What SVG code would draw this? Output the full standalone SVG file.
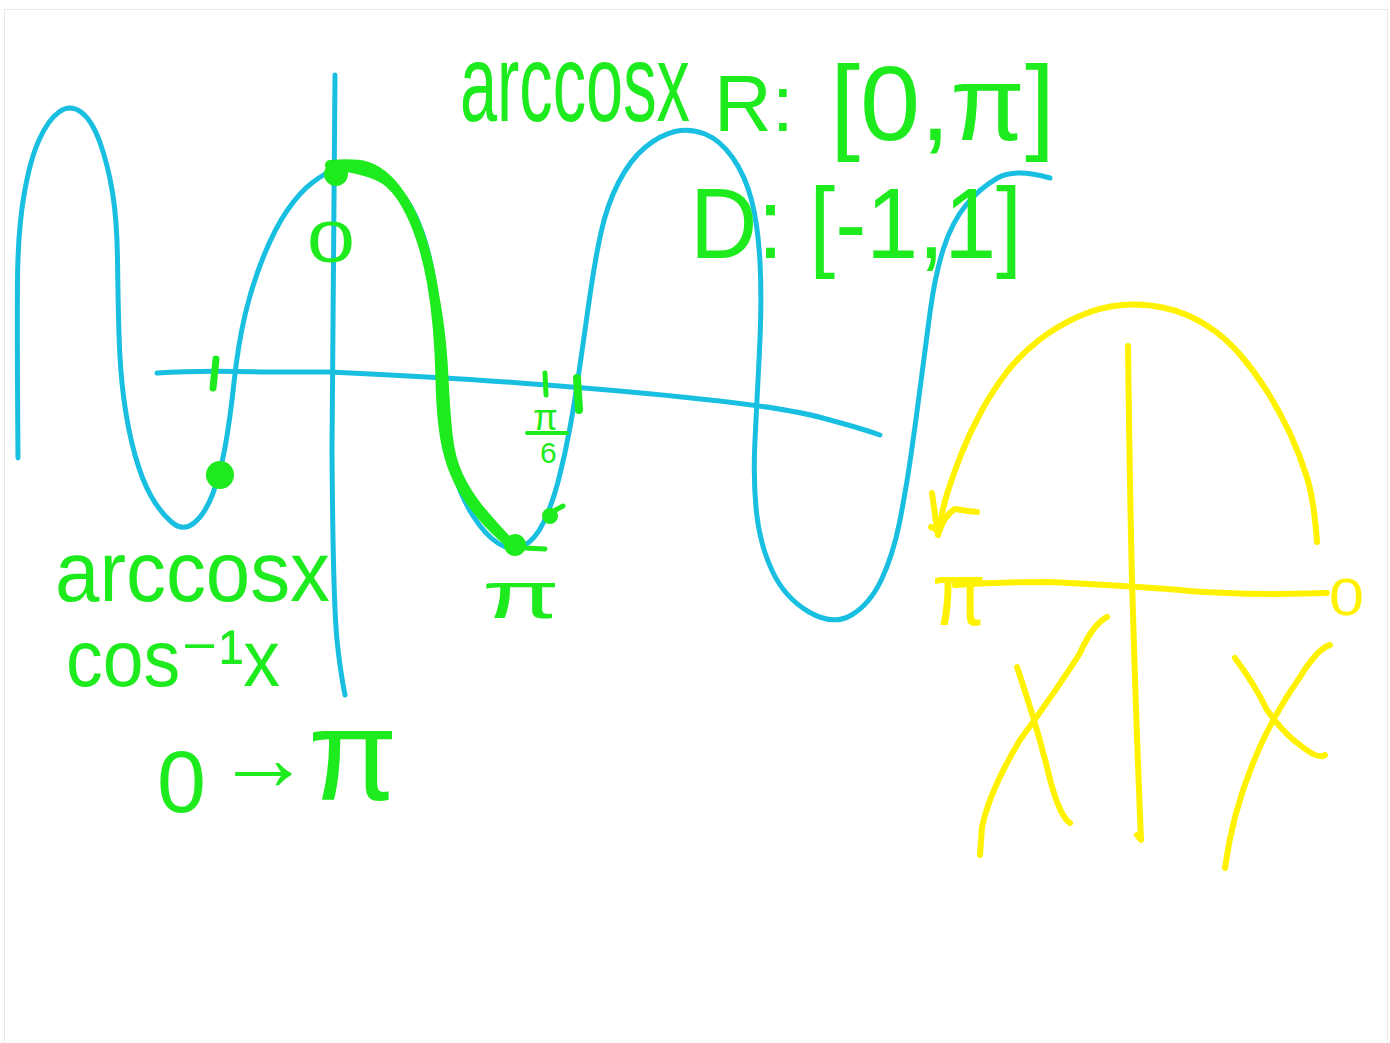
<svg xmlns="http://www.w3.org/2000/svg" width="1390" height="1043" viewBox="0 0 1390 1043">
<style>
.b{fill:none;stroke:#19BFE0;stroke-width:5;stroke-linecap:round;stroke-linejoin:round}
.g{fill:none;stroke:#1EEB1E;stroke-width:7;stroke-linecap:round;stroke-linejoin:round}
.y{fill:none;stroke:#FFF200;stroke-width:6;stroke-linecap:round;stroke-linejoin:round}
.gd{fill:#1EEB1E}
.gt{fill:#1EEB1E;font-family:"Liberation Sans","DejaVu Sans",sans-serif}
.yt{fill:#FFF200;font-family:"Liberation Sans","DejaVu Sans",sans-serif}
</style>
<rect x="4.5" y="9.5" width="1383" height="1040" fill="#ffffff" stroke="#e8e8e8" stroke-width="1"/>
<g id="blue-graph">
<path class="b" d="M18,458 Q17,330 17.5,280 Q18,230 24,195 Q30,160 39,140 Q48,120 59,112 Q70,104 81,112 Q92,120 100,142.5 Q108,165 112.5,192.5 Q117,220 117.5,260 Q118,300 119,335 Q120,370 124,400 Q128,430 135,455 Q142,480 151,496 Q160,512 171.5,522 Q183,532 194,523 Q205,514 212.5,494.5 Q220,475 225,447.5 Q230,420 234,382.5 Q238,345 245,315 Q252,285 263.5,256.5 Q275,228 287.5,210 Q300,192 312.5,182.5 Q325,173 336.5,168.5 Q348,164 360,166 Q372,168 383.5,176 Q395,184 405,198 Q415,212 422.5,233.5 Q430,255 434,282.5 Q438,310 439.5,345 Q441,380 443,410 Q445,440 452.5,467.5 Q460,495 472.5,515 Q485,535 498.5,543.5 Q512,552 523.5,546 Q535,540 543.5,522.5 Q552,505 558.5,480 Q565,455 570,427.5 Q575,400 580,365 Q585,330 590,295 Q595,260 601,232.5 Q607,205 618.5,182.5 Q630,160 645,147.5 Q660,135 675,131.5 Q690,128 705,134 Q720,140 732.5,157.5 Q745,175 751.5,200 Q758,225 760,262.5 Q762,300 759.5,350 Q757,400 755,440 Q753,480 756.5,512.5 Q760,545 772.5,571.5 Q785,598 809,612 Q833,626 851.5,615 Q870,604 881.5,579.5 Q893,555 899.5,522.5 Q906,490 911,455 Q916,420 920.5,385 Q925,350 930,312.5 Q935,275 943.5,248.5 Q952,222 966,205 Q980,188 997.5,178 Q1015,168 1050,178"/>
<path class="b" d="M335,75 Q333,300 332,450 Q333,600 337,640 Q340,670 345,695"/>
<path class="b" d="M157,373 Q200,370 260,372 L330,372 Q440,377 520,383 Q640,392 700,399 Q790,408 830,420 Q860,428 880,435"/>
</g>
<g id="green-marks">
<path class="g" style="stroke-width:10" d="M330,165 Q355,163 366.5,166.5 Q378,170 388,180 Q398,190 406.5,205 Q415,220 421.5,240 Q428,260 432,282.5 Q436,305 438,330 Q440,355 440.5,380 Q441,405 443.5,426.5 Q446,448 452,465 Q458,482 468,497 Q478,512 489,523.5 Q500,535 516,548"/>
<path class="g" style="stroke-width:6" d="M340,168 Q375,173 387.5,184 Q400,195 410,213.5 Q420,232 427.5,258.5 Q435,285 439.5,315 Q444,345 445.5,377.5 Q447,410 449.5,434 Q452,458 460,475 Q468,492 480,507 Q492,522 515,546"/>
<path class="g" style="stroke-width:4" d="M455,480 Q475,515 520,548"/>
<circle class="gd" cx="336" cy="174" r="12"/>
<circle class="gd" cx="220" cy="475" r="14"/>
<circle class="gd" cx="515" cy="545" r="11"/>
<circle class="gd" cx="550" cy="516" r="8"/>
<path class="g" style="stroke-width:5" d="M552,512 L563,506"/>
<path class="g" style="stroke-width:5" d="M525,548 L545,549"/>
<path class="g" d="M216,359 L213,388"/>
<path class="g" style="stroke-width:5" d="M545,373 L546,395"/>
<path class="g" style="stroke-width:8" d="M577,378 L579,410"/>
<path class="g" style="stroke-width:4" d="M527,433 L567,433"/>
</g>
<g id="green-labels">
<text class="gt" font-size="36" x="533" y="430">π</text>
<text class="gt" font-size="30" x="540" y="463">6</text>
<text class="gt" font-size="58" x="307" y="262" textLength="48" lengthAdjust="spacingAndGlyphs">0</text>
<text class="gt" font-size="66" x="482" y="618" textLength="78" lengthAdjust="spacingAndGlyphs">π</text>
<text class="gt" font-size="75" x="0" y="0" transform="translate(460,121) scale(0.89,1.45)">arccosx</text>
<text class="gt" font-size="80" x="714" y="131">R:</text>
<text class="gt" font-size="105" x="830" y="140" textLength="225" lengthAdjust="spacingAndGlyphs">[0,π]</text>
<text class="gt" font-size="100" x="690" y="258" textLength="332" lengthAdjust="spacingAndGlyphs">D: [-1,1]</text>
<text class="gt" font-size="85" x="55" y="601" textLength="275" lengthAdjust="spacingAndGlyphs">arccosx</text>
<text class="gt" font-size="80" x="66" y="686" textLength="214" lengthAdjust="spacingAndGlyphs">cos⁻¹x</text>
<text class="gt" x="157" y="812"><tspan font-size="88">0</tspan><tspan x="216" y="790" font-size="95">→</tspan><tspan x="308" y="800" font-size="130">π</tspan></text>
</g>
<g id="yellow-diagram">
<path class="y" d="M1317,542 Q1314,500 1307,477.5 Q1300,455 1290,433.5 Q1280,412 1267.5,392 Q1255,372 1240,354.5 Q1225,337 1206,325 Q1187,313 1165,308 Q1143,303 1121.5,305 Q1100,307 1078.5,316.5 Q1057,326 1038.5,340.5 Q1020,355 1006.5,372.5 Q993,390 981.5,411 Q970,432 961.5,453.5 Q953,475 947.5,492.5 Q942,510 938,535"/>
<path class="y" d="M932,493 Q935,515 938,535 M938,535 Q944,515 955,509 Q966,511 977,512 M931,527 L937,530"/>
<path class="y" d="M1128,346 Q1130,500 1132,580 Q1136,720 1141,840 L1137,835"/>
<path class="y" d="M955,585 Q1000,582 1050,582 Q1130,586 1180,590 Q1220,594 1280,594 L1327,593"/>
<path class="y" d="M1107,617 Q1093,624 1080,653 Q1060,685 1020,740 Q990,790 982,827 L980,855 M1017,667 Q1035,720 1047,767 Q1058,815 1070,823"/>
<path class="y" d="M1330,645 Q1318,648 1300,677 Q1270,720 1253,763 Q1232,815 1225,868 M1235,658 Q1255,685 1267,710 Q1285,735 1300,745 Q1318,760 1325,755"/>
<text class="yt" font-size="52" x="1329" y="615" textLength="35" lengthAdjust="spacingAndGlyphs">0</text>
<text class="yt" font-size="90" x="932" y="625" textLength="54" lengthAdjust="spacingAndGlyphs">π</text>
</g>
</svg>
